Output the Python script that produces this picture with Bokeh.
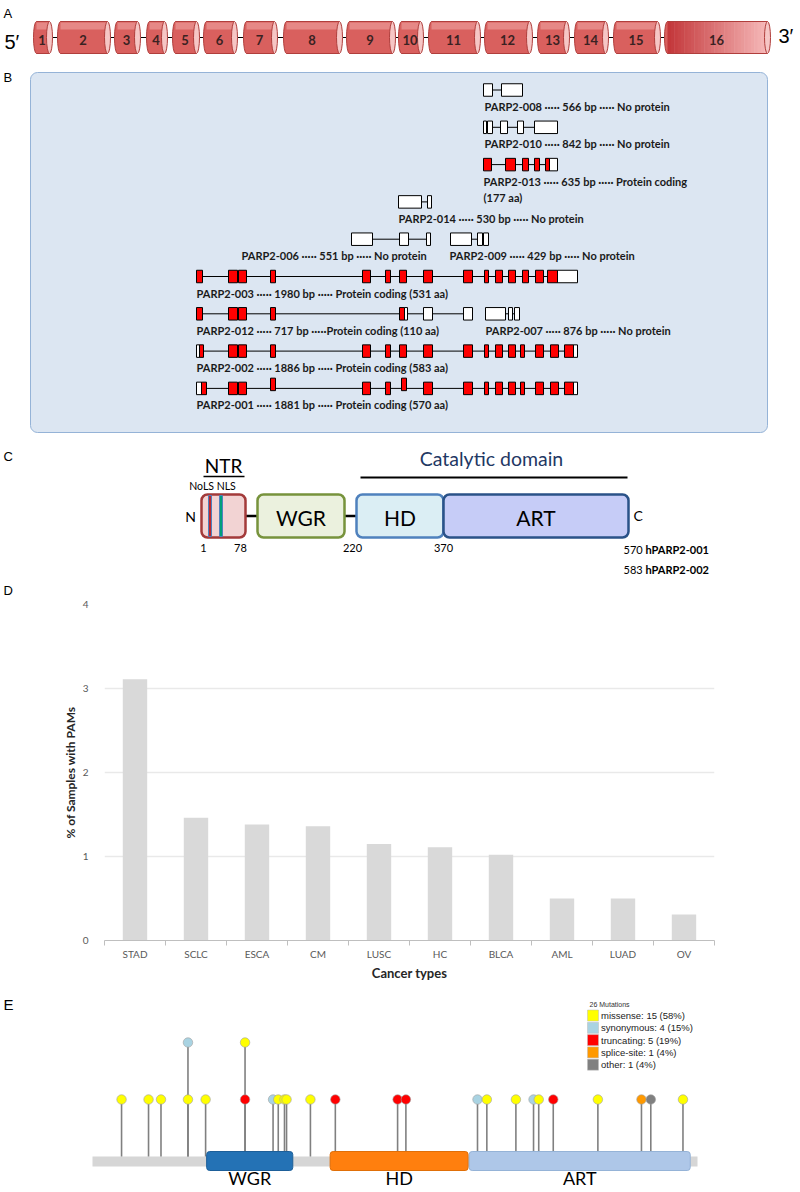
from bokeh.plotting import figure
from bokeh.models import Range1d, FixedTicker
from bokeh.embed import file_html
from bokeh.resources import INLINE
from bokeh.core.properties import value

W = 800

# ---------------- data ----------------
# Panel A: exons of the PARP2 gene (schematic positions)
exon_labels = [str(i) for i in range(1, 17)]
exon_start = [33, 57, 114, 146, 172, 203, 243, 283, 346, 398, 428, 484, 537, 574, 613, 664]
exon_end = [52, 110, 140, 167, 199, 237, 277, 342, 395, 423, 480, 532, 569, 608, 660, 770]

# Panel B: transcripts (schematic exon positions; c = coding, n = non-coding, u = coding shifted)
tx_names = ["PARP2-008", "PARP2-010", "PARP2-013", "PARP2-014", "PARP2-006", "PARP2-009",
            "PARP2-003", "PARP2-012", "PARP2-007", "PARP2-002", "PARP2-001"]
tx_row = [0, 1, 2, 3, 4, 4, 5, 6, 6, 7, 8]
tx_bp = [566, 842, 635, 530, 551, 429, 1980, 717, 876, 1886, 1881]
tx_aa = [None, None, 177, None, None, None, 531, 110, None, 583, 570]
tx_label_x = [484, 484, 483, 398, 241, 449, 196, 196, 485, 196, 196]
tx_exons = [
    [(483, 492, "n"), (501, 522, "n")],
    [(483, 486, "n"), (487, 492, "n"), (500, 507, "n"), (517, 523, "n"), (534, 557, "n")],
    [(483, 491, "c"), (505, 515, "c"), (522, 528, "c"), (534, 539, "c"), (545, 549, "c"), (549, 557, "n")],
    [(398, 421, "n"), (427, 431, "n")],
    [(351, 372, "n"), (399, 408, "n"), (426, 430, "n")],
    [(450, 471, "n"), (477, 482, "n"), (483, 488, "n")],
    [(196, 202, "c"), (228, 237, "c"), (238, 246, "c"), (270, 275, "c"), (362, 370, "c"), (385, 390, "c"),
     (399, 406, "c"), (423, 432, "c"), (463, 472, "c"), (484, 488, "c"), (495, 502, "c"), (508, 515, "c"),
     (522, 528, "c"), (535, 543, "c"), (547, 557, "c"), (557, 577, "n")],
    [(196, 202, "c"), (228, 237, "c"), (238, 246, "c"), (270, 275, "c"), (399, 404, "c"), (404, 407, "n"),
     (423, 432, "n"), (463, 472, "n")],
    [(485, 505, "n"), (508, 512, "n"), (514, 519, "n")],
    [(196, 199, "n"), (199, 203, "c"), (228, 237, "c"), (238, 246, "c"), (270, 275, "c"), (362, 370, "c"),
     (385, 390, "c"), (399, 406, "c"), (423, 432, "c"), (463, 472, "c"), (484, 488, "c"), (495, 502, "c"),
     (508, 515, "c"), (520, 524, "c"), (535, 543, "c"), (550, 558, "c"), (564, 573, "c"), (573, 577, "n")],
    [(196, 201, "n"), (201, 206, "c"), (228, 237, "c"), (238, 246, "c"), (270, 275, "u"), (362, 370, "c"),
     (385, 390, "c"), (401, 406, "u"), (423, 432, "c"), (463, 472, "c"), (484, 488, "c"), (495, 502, "c"),
     (508, 515, "c"), (520, 524, "c"), (535, 543, "c"), (550, 558, "c"), (564, 573, "c"), (573, 577, "n")],
]

# Panel C: domain architecture (schematic)
c_domains = ["NTR", "WGR", "HD", "ART"]
c_dom_x0 = [201, 257, 356, 443]
c_dom_x1 = [245, 344, 443, 628]
c_pos_labels = ["1", "78", "220", "370"]
c_pos_x = [203, 240, 352, 443]
c_isoform_len = ["570", "583"]
c_isoform_names = ["hPARP2-001", "hPARP2-002"]

# Panel D: % of samples with PAMs
cancer_types = ["STAD", "SCLC", "ESCA", "CM", "LUSC", "HC", "BLCA", "AML", "LUAD", "OV"]
pam_pct = [3.11, 1.46, 1.38, 1.36, 1.15, 1.11, 1.02, 0.50, 0.50, 0.31]
d_yticks = [0, 1, 2, 3, 4]

# Panel E: mutations (amino acid position, count, class)
protein_len = 583
mut_aa = [28, 54, 66, 92, 92, 109, 147, 147, 174, 179, 185, 187, 210, 234, 294, 302,
          371, 380, 408, 425, 430, 444, 487, 529, 538, 569]
mut_count = [1, 1, 1, 2, 1, 1, 2, 1, 1, 1, 1, 1, 1, 1, 1, 1,
             1, 1, 1, 1, 1, 1, 1, 1, 1, 1]
mut_type = ["missense", "missense", "missense", "synonymous", "missense", "missense", "missense",
            "truncating", "synonymous", "missense", "missense", "missense", "missense", "truncating",
            "truncating", "truncating", "synonymous", "missense", "missense", "synonymous", "missense",
            "truncating", "missense", "splice-site", "other", "missense"]
mut_classes = ["missense", "synonymous", "truncating", "splice-site", "other"]
e_domains = ["WGR", "HD", "ART"]
e_dom_start = [110, 229, 363]
e_dom_end = [193, 362, 576]

# ---------------- styles ----------------
EXON_BODY = "#d9605e"
EXON_TOP = "#e68886"
EXON_EDGE = "#b03e3c"
EXON_FACE = "#f6c6c5"
c_dom_fill = ["#f2d3d3", "#ebf1de", "#dbeef4", "#c6ccf7"]
c_dom_line = ["#a33a3a", "#77933c", "#4f81bd", "#2a5288"]
mut_colors = {"missense": "#ffff00", "synonymous": "#a9d3e2", "truncating": "#ff0000",
              "splice-site": "#ff9900", "other": "#808080"}
e_dom_fill = ["#2472b5", "#ff7f0e", "#aec7e8"]
e_dom_line = ["#1d5f99", "#e06f08", "#95b3d7"]


def bare(p):
    p.grid.visible = False
    p.outline_line_color = None
    return p


def txt(p, x, y, s, size, bold=False, align="left", color="black", font="Lato", base="middle"):
    p.text(x=[x], y=[y], text=[s], text_font=value(font), text_font_size=f"{size}px",
           text_font_style="bold" if bold else "normal", text_align=align,
           text_baseline=base, text_color=color)


# ================= Figure 1 : panels A, B, C =================
H1 = 597
p1 = bare(figure(width=W, height=H1, x_range=Range1d(0, W), y_range=Range1d(H1, 0),
                 output_backend="svg", toolbar_location=None, min_border=0,
                 x_axis_location=None, y_axis_location=None))

# ---- Panel A ----
txt(p1, 3, 13, "A", 13, font="Liberation Sans")
txt(p1, 4, 41, "5\u2032", 20, font="Liberation Sans")
txt(p1, 778, 35, "3\u2032", 20, font="Liberation Sans")
ey0, ey1 = 21, 53
eyc = (ey0 + ey1) / 2
cap = 3
n = len(exon_start)
p1.segment(x0=exon_end[:-1], y0=[eyc] * (n - 1), x1=exon_start[1:], y1=[eyc] * (n - 1),
           line_color="black", line_width=1)
p1.ellipse(x=[s + cap for s in exon_start], y=[eyc] * n, width=2 * cap, height=ey1 - ey0,
           fill_color=EXON_BODY, line_color=EXON_EDGE, line_width=1)
p1.quad(left=[s + cap for s in exon_start[:-1]], right=[e - cap for e in exon_end[:-1]],
        top=ey0, bottom=ey1, fill_color=EXON_BODY, line_color=None)
p1.quad(left=[s + cap for s in exon_start[:-1]], right=[e - cap for e in exon_end[:-1]],
        top=ey0 + 1, bottom=ey0 + 8, fill_color=EXON_TOP, line_color=None)
# last exon with horizontal gradient
s16, e16 = exon_start[-1] + cap, exon_end[-1] - cap
nst = 30
c0 = (0xc4, 0x38, 0x3b)
c1 = (0xf6, 0xb8, 0xb8)
lefts, rights, cols = [], [], []
for i in range(nst):
    t = i / (nst - 1)
    lefts.append(s16 + (e16 - s16) * i / nst)
    rights.append(s16 + (e16 - s16) * (i + 1) / nst + 0.5)
    cols.append("#%02x%02x%02x" % tuple(int(c0[k] + (c1[k] - c0[k]) * t) for k in range(3)))
p1.quad(left=lefts, right=rights, top=ey0, bottom=ey1, fill_color=cols, line_color=None)
p1.segment(x0=[s + cap for s in exon_start] * 2, y0=[ey0] * n + [ey1] * n,
           x1=[e - cap for e in exon_end] * 2, y1=[ey0] * n + [ey1] * n,
           line_color=EXON_EDGE, line_width=1)
p1.ellipse(x=[e - cap for e in exon_end], y=[eyc] * n, width=2 * cap, height=ey1 - ey0,
           fill_color=EXON_FACE, line_color=EXON_EDGE, line_width=1)
p1.text(x=[(s + e) / 2 - 1 for s, e in zip(exon_start, exon_end)], y=[eyc + 2] * n, text=exon_labels,
        text_font=value("Lato"), text_font_size="13px", text_font_style="bold",
        text_align="center", text_baseline="middle", text_color="#3a2222")

# ---- Panel B ----
txt(p1, 3, 77, "B", 13, font="Liberation Sans")
p1.quad(left=[30], right=[767], top=[72], bottom=[432], fill_color="#dce6f2",
        line_color="#95b3d7", line_width=1, border_radius=7)
row_y0, row_step, box_h = 89.5, 37.3, 12.5
il_x0, il_x1, il_y = [], [], []
bx_l, bx_r, bx_t, bx_b, bx_c = [], [], [], [], []
lab_x, lab_y, lab_t = [], [], []
for name, row, bp, aa, lx, exons in zip(tx_names, tx_row, tx_bp, tx_aa, tx_label_x, tx_exons):
    yc = row_y0 + row * row_step
    il_x0.append(min(e[0] for e in exons))
    il_x1.append(max(e[1] for e in exons))
    il_y.append(yc)
    for (a, b, kind) in exons:
        off = -4 if kind == "u" else 0
        bx_l.append(a)
        bx_r.append(b)
        bx_t.append(yc - box_h / 2 + off)
        bx_b.append(yc + box_h / 2 + off)
        bx_c.append("white" if kind == "n" else "#ff0000")
    sep2 = " \u00b7\u00b7\u00b7\u00b7\u00b7" + ("" if name == "PARP2-012" else " ")
    if aa is None:
        prot = "No protein"
    elif name == "PARP2-013":
        prot = "Protein coding"
    else:
        prot = f"Protein coding ({aa} aa)"
    lab_x.append(lx)
    lab_y.append(yc + 16.5)
    lab_t.append(f"{name} \u00b7\u00b7\u00b7\u00b7\u00b7 {bp} bp" + sep2 + prot)
    if name == "PARP2-013":
        lab_x.append(lx)
        lab_y.append(yc + 32.5)
        lab_t.append(f"({aa} aa)")
p1.segment(x0=il_x0, y0=il_y, x1=il_x1, y1=il_y, line_color="black", line_width=1)
p1.quad(left=bx_l, right=bx_r, top=bx_t, bottom=bx_b, fill_color=bx_c, line_color="black", line_width=1)
p1.text(x=lab_x, y=lab_y, text=lab_t, text_font=value("Lato"), text_font_size="11px",
        text_font_style="bold", text_align="left", text_baseline="middle", text_color="#1a1a1a")

# ---- Panel C ----
txt(p1, 3, 456, "C", 13, font="Liberation Sans")
cy0, cy1 = 494, 537
cyc = (cy0 + cy1) / 2
p1.segment(x0=[c_dom_x1[0], c_dom_x1[1]], y0=[cyc, cyc], x1=[c_dom_x0[1], c_dom_x0[2]], y1=[cyc, cyc],
           line_color="black", line_width=2.5)
p1.quad(left=c_dom_x0, right=c_dom_x1, top=cy0, bottom=cy1, fill_color=c_dom_fill,
        line_color=c_dom_line, line_width=2.5, border_radius=6)
# NoLS / NLS motifs inside NTR
p1.quad(left=[208, 219], right=[211, 222], top=cy0 + 1, bottom=cy1 - 1,
        fill_color=["#c0272d", "#00a07a"], line_color="#4f81bd", line_width=1)
p1.text(x=[(a + b) / 2 for a, b in zip(c_dom_x0[1:], c_dom_x1[1:])], y=[cyc + 1] * 3,
        text=c_domains[1:], text_font=value("Lato"), text_font_size="21px",
        text_align="center", text_baseline="middle", text_color="black")
txt(p1, 223, 465, c_domains[0], 19, align="center")
p1.segment(x0=[203], y0=[476], x1=[244], y1=[476], line_color="black", line_width=1.5)
txt(p1, 212, 485, "NoLS NLS", 10.5, align="center")
txt(p1, 190, cyc, "N", 14, align="center")
txt(p1, 633, cyc - 1, "C", 14)
p1.segment(x0=[360], y0=[477], x1=[627], y1=[477], line_color="black", line_width=2)
txt(p1, 491, 458, "Catalytic domain", 19.5, align="center", color="#1f3864")
p1.text(x=c_pos_x, y=[547] * 4, text=c_pos_labels, text_font=value("Lato"), text_font_size="11px",
        text_align="center", text_baseline="middle", text_color="black")
for i, (ln, nm) in enumerate(zip(c_isoform_len, c_isoform_names)):
    yy = 549 + 20 * i
    txt(p1, 623, yy, ln, 11)
    txt(p1, 645, yy, nm, 11, bold=True)

# ---- Panel D letter ----
txt(p1, 3, 590, "D", 13, font="Liberation Sans")

# ================= Figure 2 : panel D bar chart =================
D_TOP, D_BOTTOM = 7, 52
H2 = D_TOP + 336 + D_BOTTOM
p2 = figure(width=W, height=H2, x_range=Range1d(0, len(cancer_types)), y_range=Range1d(0, 4),
            output_backend="svg", toolbar_location=None,
            min_border_left=104, min_border_right=86, min_border_top=D_TOP, min_border_bottom=D_BOTTOM)
p2.outline_line_color = None
centers = [i + 0.5 for i in range(len(cancer_types))]
p2.vbar(x=centers, top=pam_pct, width=0.4, fill_color="#d9d9d9", line_color=None)
p2.xgrid.visible = False
p2.ygrid.grid_line_color = "#e9e9e9"
p2.ygrid.grid_line_width = 1.5
p2.ygrid.ticker = FixedTicker(ticks=d_yticks)
p2.yaxis.ticker = FixedTicker(ticks=d_yticks)
p2.yaxis.axis_line_color = None
p2.yaxis.major_tick_line_color = None
p2.yaxis.minor_tick_line_color = None
p2.yaxis.major_label_standoff = 10
p2.yaxis.major_label_text_font = "Lato"
p2.yaxis.major_label_text_font_size = "10px"
p2.yaxis.major_label_text_color = "#595959"
p2.yaxis.axis_label = "% of Samples with PAMs"
p2.yaxis.axis_label_text_font = "Lato"
p2.yaxis.axis_label_text_font_style = "bold"
p2.yaxis.axis_label_text_font_size = "12px"
p2.yaxis.axis_label_text_color = "#262626"
p2.yaxis.axis_label_standoff = 2
p2.xaxis.ticker = FixedTicker(ticks=centers, minor_ticks=list(range(len(cancer_types) + 1)))
p2.xaxis.major_label_overrides = {c: nm for c, nm in zip(centers, cancer_types)}
p2.xaxis.axis_line_color = "#bfbfbf"
p2.xaxis.major_tick_line_color = None
p2.xaxis.minor_tick_line_color = "#bfbfbf"
p2.xaxis.minor_tick_out = 5
p2.xaxis.minor_tick_in = 0
p2.xaxis.major_tick_out = 0
p2.xaxis.major_tick_in = 0
p2.xaxis.major_label_standoff = 2
p2.xaxis.major_label_text_font = "Lato"
p2.xaxis.major_label_text_font_size = "10px"
p2.xaxis.major_label_text_color = "#595959"
p2.xaxis.axis_label = "Cancer types"
p2.xaxis.axis_label_text_font = "Lato"
p2.xaxis.axis_label_text_font_style = "bold"
p2.xaxis.axis_label_text_font_size = "13px"
p2.xaxis.axis_label_text_color = "#262626"
p2.xaxis.axis_label_standoff = 2

# ================= Figure 3 : panel E lollipop =================
E_TOP = H1 + H2
H3 = 1191 - E_TOP


def px2aa(x):
    return (x - 92) * protein_len / 605.0


def px2cnt(y):
    return (1156 - y) / 57.0


p3 = bare(figure(width=W, height=H3, x_range=Range1d(px2aa(0), px2aa(W)),
                 y_range=Range1d(px2cnt(E_TOP + H3), px2cnt(E_TOP)),
                 output_backend="svg", toolbar_location=None, min_border=0,
                 x_axis_location=None, y_axis_location=None))
p3.text(x=[px2aa(3)], y=[px2cnt(1004)], text=["E"], text_font=value("Liberation Sans"),
        text_font_size="15px", text_baseline="middle")
# protein backbone
p3.quad(left=[0], right=[protein_len], top=[px2cnt(1156)], bottom=[px2cnt(1166)],
        fill_color="#d6d6d6", line_color=None)
# stems
p3.segment(x0=mut_aa, y0=[px2cnt(1156)] * len(mut_aa), x1=mut_aa, y1=mut_count,
           line_color="#808080", line_width=1.6)
# domains
p3.quad(left=e_dom_start, right=e_dom_end, top=px2cnt(1151), bottom=px2cnt(1170),
        fill_color=e_dom_fill, line_color=e_dom_line, line_width=1, border_radius=3)
p3.text(x=[(a + b) / 2 for a, b in zip(e_dom_start, e_dom_end)], y=[px2cnt(1177)] * 3, text=e_domains,
        text_font=value("Lato"), text_font_size="18px", text_align="center",
        text_baseline="middle", text_color="black")
# heads
p3.scatter(x=mut_aa, y=mut_count, size=9.5, fill_color=[mut_colors[t] for t in mut_type],
           line_color="#a0a0a0", line_width=0.6)
# legend
total = len(mut_type)
p3.text(x=[px2aa(589)], y=[px2cnt(1004)], text=[f"{total} Mutations"], text_font=value("Liberation Sans"),
        text_font_size="7px", text_baseline="middle", text_color="#333333")
leg_y = [1015 + 12.3 * i for i in range(len(mut_classes))]
p3.quad(left=[px2aa(587)] * 5, right=[px2aa(598)] * 5, top=[px2cnt(y - 5.5) for y in leg_y],
        bottom=[px2cnt(y + 5.5) for y in leg_y], fill_color=[mut_colors[c] for c in mut_classes],
        line_color="#bbbbbb", line_width=0.5)
leg_txt = []
for c in mut_classes:
    k = mut_type.count(c)
    leg_txt.append(f"{c}: {k} ({round(100 * k / total)}%)")
p3.text(x=[px2aa(600.5)] * 5, y=[px2cnt(y) for y in leg_y], text=leg_txt,
        text_font=value("Liberation Sans"), text_font_size="9.5px", text_baseline="middle",
        text_color="#222222")

open("out.html", "w").write(file_html([p1, p2, p3], INLINE))
